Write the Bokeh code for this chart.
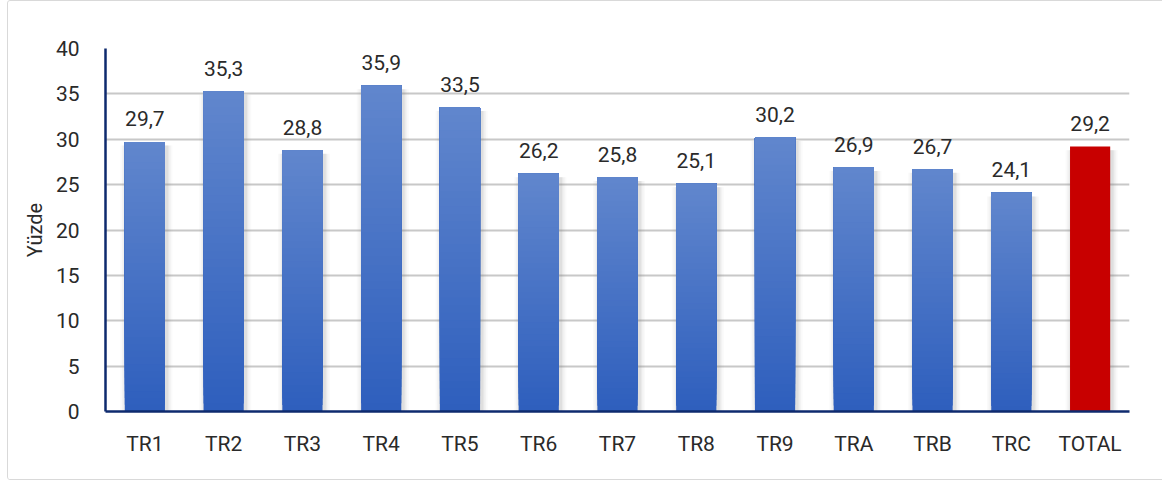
from bokeh.plotting import figure
from bokeh.models import FactorRange, Range1d, ColumnDataSource, FixedTicker
from bokeh.transform import dodge
from bokeh.embed import file_html
from bokeh.resources import INLINE
from bokeh.core.properties import value

categories = ["TR1", "TR2", "TR3", "TR4", "TR5", "TR6", "TR7", "TR8", "TR9", "TRA", "TRB", "TRC", "TOTAL"]
values = [29.7, 35.3, 28.8, 35.9, 33.5, 26.2, 25.8, 25.1, 30.2, 26.9, 26.7, 24.1, 29.2]
labels = ["29,7", "35,3", "28,8", "35,9", "33,5", "26,2", "25,8", "25,1", "30,2", "26,9", "26,7", "24,1", "29,2"]
y_ticks = [0, 5, 10, 15, 20, 25, 30, 35, 40]
y_title = "Yüzde"

FONT = "Roboto"
TXT = "#2A2A2A"
BLUE_BOTTOM = (0x2E, 0x5F, 0xBD)
BLUE_TOP = (0x61, 0x86, 0xCD)
RED = "#C80000"
NAVY = "#0E2A6E"

p = figure(
    x_range=FactorRange(*categories, range_padding=0),
    y_range=Range1d(0, 40),
    width=1160, height=480,
    output_backend="svg", toolbar_location=None,
    min_border_left=97, min_border_right=39,
    min_border_top=47, min_border_bottom=70,
)
p.margin = (0, 0, 0, 7)
p.styles = {"border": "1.5px solid #D9D9D9", "border-radius": "3px"}
p.outline_line_color = None
p.background_fill_color = "white"
p.border_fill_color = "white"

# gridlines
p.xgrid.grid_line_color = None
p.ygrid.grid_line_color = "#C8C8C8"
p.ygrid.grid_line_width = 2

# shadows
for w, a in [(0.66, 0.04), (0.62, 0.06), (0.58, 0.08), (0.55, 0.10)]:
    p.vbar(x=dodge("cat", 0.02, range=p.x_range), top="val", bottom=0, width=w,
           source=ColumnDataSource(dict(cat=categories, val=[v - 0.4 for v in values])),
           fill_color="#808080", fill_alpha=a, line_color=None)

# gradient bars (each band runs to the bar top; later bands cover upper part)
N = 40
cats, bots, tops, cols = [], [], [], []
for c, v in zip(categories, values):
    if c == "TOTAL":
        cats.append(c); bots.append(0); tops.append(v); cols.append(RED)
        continue
    for i in range(N):
        t = (i + 0.5) / N
        r = round(BLUE_BOTTOM[0] + (BLUE_TOP[0] - BLUE_BOTTOM[0]) * t)
        g = round(BLUE_BOTTOM[1] + (BLUE_TOP[1] - BLUE_BOTTOM[1]) * t)
        b = round(BLUE_BOTTOM[2] + (BLUE_TOP[2] - BLUE_BOTTOM[2]) * t)
        cats.append(c)
        bots.append(v * i / N)
        tops.append(v)
        cols.append("#%02X%02X%02X" % (r, g, b))
p.vbar(x="cat", bottom="b", top="t", width=0.51, fill_color="c", line_color=None,
       source=ColumnDataSource(dict(cat=cats, b=bots, t=tops, c=cols)))

# value labels
p.text(x="cat", y="val", text="lab", source=ColumnDataSource(dict(cat=categories, val=values, lab=labels)),
       text_font=value(FONT), text_font_size="21px", text_color=TXT,
       text_align="center", text_baseline="alphabetic", y_offset=-23)

# axes
p.yaxis.ticker = FixedTicker(ticks=y_ticks)
p.yaxis.axis_line_color = NAVY
p.yaxis.axis_line_width = 2.5
p.yaxis.major_tick_line_color = None
p.yaxis.minor_tick_line_color = None
p.yaxis.major_label_standoff = 20
p.yaxis.major_label_text_font = FONT
p.yaxis.major_label_text_font_size = "21px"
p.yaxis.major_label_text_color = TXT
p.yaxis.axis_label = y_title
p.yaxis.axis_label_text_font = FONT
p.yaxis.axis_label_text_font_size = "20px"
p.yaxis.axis_label_text_font_style = "normal"
p.yaxis.axis_label_text_color = TXT
p.yaxis.axis_label_standoff = 6

p.xaxis.axis_line_color = NAVY
p.xaxis.axis_line_width = 2.5
p.xaxis.major_tick_line_color = None
p.xaxis.minor_tick_line_color = None
p.xaxis.major_label_standoff = 14
p.xaxis.major_label_text_font = FONT
p.xaxis.major_label_text_font_size = "21px"
p.xaxis.major_label_text_color = TXT

open("out.html", "w").write(file_html(p, INLINE))
